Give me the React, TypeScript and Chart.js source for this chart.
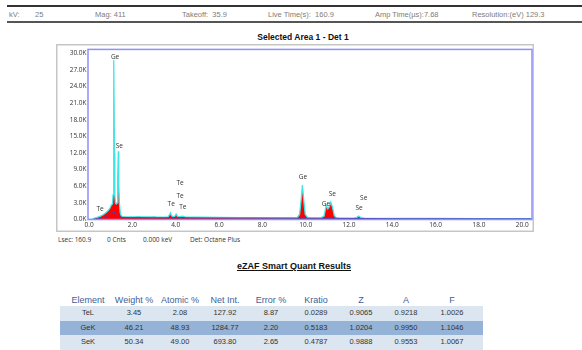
import React, { useEffect, useRef } from "react";
import { Chart, registerables } from "chart.js";
Chart.register(...registerables);

// ---- Spectrum data (keV / counts) ----
const energyKeV = [
  0.0, 0.15, 0.2, 0.3, 0.4, 0.5, 0.6, 0.7, 0.8, 0.9, 0.97, 1.03, 1.08, 1.11, 1.13, 1.15, 1.17, 1.19, 1.22, 1.26,
  1.29, 1.31, 1.33, 1.35, 1.37, 1.4, 1.44, 1.48, 1.53, 1.6, 1.8, 2.1, 2.3, 2.4, 2.5, 2.8, 3.0, 3.1, 3.4, 3.65,
  3.72, 3.76, 3.8, 3.88, 3.96, 4.02, 4.08, 4.2, 4.3, 4.36, 4.42, 4.6, 5.0, 6.0, 7.0, 8.0, 9.0, 9.6, 9.72, 9.79,
  9.85, 9.91, 9.98, 10.1, 10.7, 10.85, 10.95, 11.02, 11.08, 11.16, 11.24, 11.32, 11.42, 11.6, 12.2, 12.35, 12.45,
  12.55, 12.7, 14.0, 16.0, 18.0, 20.0, 20.45,
];
const counts = [
  0, 0, 150, 300, 420, 550, 750, 1000, 1300, 1700, 2100, 2600, 2800, 4500, 12000, 28800, 12000, 4200, 2900, 2800,
  3000, 4000, 7000, 12300, 6500, 3000, 1200, 700, 520, 480, 470, 460, 520, 470, 460, 450, 480, 450, 440, 460,
  900, 1200, 700, 480, 600, 970, 560, 500, 620, 550, 470, 440, 420, 380, 350, 330, 310, 300, 900, 3500,
  6230, 3500, 900, 300, 290, 600, 2560, 1900, 2200, 3150, 2200, 700, 300, 260, 240, 350, 620,
  350, 230, 200, 180, 160, 150, 150,
];
const bgEnergyKeV = [0.15, 0.4, 0.7, 0.9, 1.0, 1.1, 1.2, 1.3, 1.4, 1.5, 1.7, 3.0, 6.0, 10.0, 14.0, 20.45];
const bgCounts = [0, 150, 400, 800, 1150, 1380, 1250, 900, 600, 380, 330, 300, 260, 220, 150, 120];

const xTickValues = [0, 2, 4, 6, 8, 10, 12, 14, 16, 18, 20];
const yTickValues = [0, 3000, 6000, 9000, 12000, 15000, 18000, 21000, 24000, 27000, 30000];

const peakLabelText = ["Ge", "Se", "Te", "Te", "Te", "Te", "Te", "Ge", "Ge", "Se", "Se", "Se"];
const peakLabelKeV = [1.2, 1.4, 0.51, 4.2, 4.2, 3.79, 4.33, 9.87, 10.94, 11.23, 12.47, 12.68];
const peakLabelCounts = [29300, 13300, 1800, 6600, 4250, 2850, 2200, 7700, 2750, 4650, 2100, 3850];

// ---- Header / footer texts ----
const headerTexts = ["kV:", "25", "Mag: 411", "Takeoff:  35.9", "Live Time(s):  160.9", "Amp Time(µs):7.68", "Resolution:(eV) 129.3"];
const footerTexts = ["Lsec: 160.9", "0 Cnts", "0.000 keV", "Det: Octane Plus"];

// ---- Quant table ----
const tableColumns = ["Element", "Weight %", "Atomic %", "Net Int.", "Error %", "Kratio", "Z", "A", "F"];
const elements = ["TeL", "GeK", "SeK"];
const weightPct = ["3.45", "46.21", "50.34"];
const atomicPct = ["2.08", "48.93", "49.00"];
const netInt = ["127.92", "1284.77", "693.80"];
const errorPct = ["8.87", "2.20", "2.65"];
const kratio = ["0.0289", "0.5183", "0.4787"];
const zFactor = ["0.9065", "1.0204", "0.9888"];
const aFactor = ["0.9218", "0.9950", "0.9553"];
const fFactor = ["1.0026", "1.1046", "1.0067"];

const headerX = [9, 35, 95, 182, 268, 375, 472];
const footerX = [58, 107, 143, 190];
const colCenters = [88, 134, 180, 225, 271, 316, 361, 406, 452];

function Spectrum() {
  const ref = useRef<HTMLCanvasElement>(null);
  useEffect(() => {
    if (!ref.current) return;
    const frames = {
      id: "frames",
      afterDraw(chart: any) {
        const { ctx, chartArea: a, width, height } = chart;
        ctx.save();
        ctx.strokeStyle = "#c6c6c6";
        ctx.lineWidth = 1.5;
        ctx.strokeRect(0.75, 0.75, width - 1.5, height - 1.5);
        ctx.strokeStyle = "#8f8fff";
        ctx.lineWidth = 1.5;
        ctx.strokeRect(a.left, a.top, a.right - a.left, a.bottom - a.top);
        ctx.restore();
      },
    };
    const peakLabels = {
      id: "peakLabels",
      afterDatasetsDraw(chart: any) {
        const { ctx } = chart;
        const xs = chart.scales.x;
        const ys = chart.scales.y;
        ctx.save();
        ctx.font = "6.5px 'Open Sans'";
        ctx.fillStyle = "#333";
        ctx.textAlign = "center";
        ctx.textBaseline = "middle";
        peakLabelText.forEach((t, i) => {
          ctx.fillText(t, xs.getPixelForValue(peakLabelKeV[i]), ys.getPixelForValue(peakLabelCounts[i]));
        });
        ctx.restore();
      },
    };
    const tickFont = { family: "'Open Sans'", size: 6.5 };
    const chart = new Chart(ref.current, {
      type: "line",
      data: {
        datasets: [
          {
            data: bgEnergyKeV.map((e, i) => ({ x: e, y: bgCounts[i] })),
            borderColor: "#4a3fb0",
            borderWidth: 1,
            fill: false,
            pointRadius: 0,
            order: 0,
          },
          {
            data: energyKeV.map((e, i) => ({ x: e, y: counts[i] })),
            borderColor: "#3fe6e6",
            backgroundColor: "#ff0000",
            borderWidth: 1.3,
            fill: "origin",
            pointRadius: 0,
            order: 1,
          },
        ],
      },
      options: {
        animation: false,
        responsive: false,
        events: [],
        elements: { line: { tension: 0 } },
        layout: { padding: { top: 2, right: 2, left: 0, bottom: 0 } },
        plugins: { legend: { display: false }, tooltip: { enabled: false } },
        scales: {
          x: {
            type: "linear",
            min: -0.05,
            max: 20.45,
            afterBuildTicks: (s: any) => {
              s.ticks = xTickValues.map((v) => ({ value: v }));
            },
            afterFit: (s: any) => {
              s.height = 12.5;
            },
            grid: { display: false, drawTicks: false },
            border: { display: false },
            ticks: {
              padding: 2,
              font: tickFont,
              color: "#333",
              maxRotation: 0,
              autoSkip: false,
              callback: (v: any) => Number(v).toFixed(1),
            },
          },
          y: {
            type: "linear",
            min: 0,
            max: 30700,
            afterBuildTicks: (s: any) => {
              s.ticks = yTickValues.map((v) => ({ value: v }));
            },
            afterFit: (s: any) => {
              s.width = 32;
            },
            grid: { display: false, drawTicks: false },
            border: { display: false },
            ticks: {
              padding: 1.5,
              font: tickFont,
              color: "#333",
              autoSkip: false,
              callback: (v: any) => (Number(v) / 1000).toFixed(1) + "K",
            },
          },
        },
      },
      plugins: [frames, peakLabels],
    });
    return () => chart.destroy();
  }, []);
  return (
    <canvas
      ref={ref}
      width={478}
      height={188}
      style={{ position: "absolute", left: 56, top: 44, width: 478, height: 188, display: "block" }}
    />
  );
}

export default function App() {
  const sans = "'Liberation Sans', Arial, sans-serif";
  const rows = elements.map((el, i) => [
    el, weightPct[i], atomicPct[i], netInt[i], errorPct[i], kratio[i], zFactor[i], aFactor[i], fFactor[i],
  ]);
  const cellW = 50;
  const tableLeft = 60;
  const tableRight = 483;
  const rowTops = [306, 320.5, 335];
  const rowH = 14.5;
  const rowBg = ["#dce6f1", "#95b3d7", "#dce6f1"];
  return (
    <div
      style={{
        position: "absolute",
        left: 0,
        top: 0,
        width: 582,
        height: 350,
        overflow: "hidden",
        background: "#fff",
        fontFamily: sans,
      }}
    >
      {/* header rules */}
      <div style={{ position: "absolute", left: 7, top: 5, width: 575, height: 2, background: "#333" }} />
      <div style={{ position: "absolute", left: 7, top: 21, width: 575, height: 2, background: "#555" }} />
      {headerTexts.map((t, i) => (
        <div
          key={i}
          style={{
            position: "absolute",
            left: headerX[i],
            top: 9.5,
            fontSize: 7.5,
            lineHeight: "9px",
            color: "#7c7c7c",
            whiteSpace: "pre",
          }}
        >
          {t}
        </div>
      ))}
      <div
        style={{
          position: "absolute",
          left: 0,
          width: 606,
          top: 32,
          textAlign: "center",
          fontSize: 8.5,
          lineHeight: "10px",
          fontWeight: "bold",
          color: "#111",
        }}
      >
        Selected Area 1 - Det 1
      </div>
      <Spectrum />
      {footerTexts.map((t, i) => (
        <div
          key={i}
          style={{
            position: "absolute",
            left: footerX[i],
            top: 236,
            fontSize: 6.5,
            lineHeight: "8px",
            color: "#333",
            fontFamily: "'Open Sans', sans-serif",
            whiteSpace: "pre",
          }}
        >
          {t}
        </div>
      ))}
      <div
        style={{
          position: "absolute",
          left: 0,
          width: 588,
          top: 261,
          textAlign: "center",
          fontSize: 9,
          lineHeight: "11px",
          fontWeight: "bold",
          textDecoration: "underline",
          color: "#111",
        }}
      >
        eZAF Smart Quant Results
      </div>
      {rows.map((r, i) => (
        <div
          key={"bg" + i}
          style={{
            position: "absolute",
            left: tableLeft,
            top: rowTops[i],
            width: tableRight - tableLeft,
            height: rowH,
            background: rowBg[i],
          }}
        />
      ))}
      {tableColumns.map((c, j) => (
        <div
          key={c}
          style={{
            position: "absolute",
            left: colCenters[j] - cellW / 2,
            width: cellW,
            top: 294,
            textAlign: "center",
            fontSize: 9,
            lineHeight: "12px",
            color: "#3e6197",
            whiteSpace: "nowrap",
          }}
        >
          {c}
        </div>
      ))}
      {rows.map((r, i) =>
        r.map((v, j) => (
          <div
            key={i + "-" + j}
            style={{
              position: "absolute",
              left: colCenters[j] - cellW / 2,
              width: cellW,
              top: rowTops[i],
              height: rowH,
              lineHeight: rowH + "px",
              textAlign: "center",
              fontSize: 7.5,
              color: "#333",
            }}
          >
            {v}
          </div>
        ))
      )}
    </div>
  );
}
